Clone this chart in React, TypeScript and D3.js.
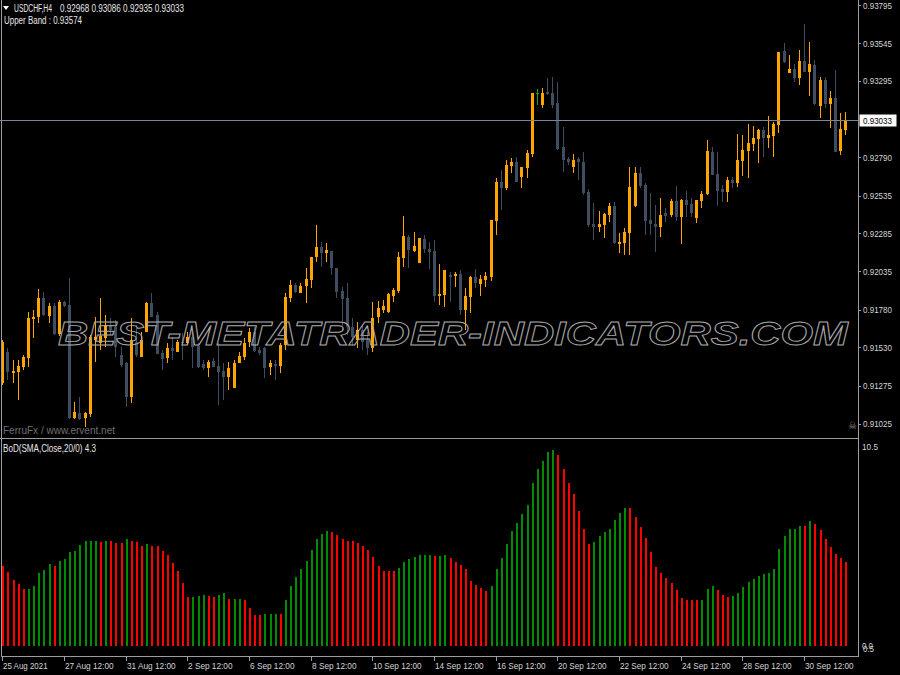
import { useEffect } from "react";
import * as d3 from "d3";

// USDCHF H4 candles, oldest first
const openPrices = [
	0.91295, 0.915, 0.91361, 0.91367, 0.914, 0.9146, 0.91718, 0.91731, 0.91857, 0.91738,
	0.91804, 0.91619, 0.91831, 0.91811, 0.91063, 0.91096, 0.91063, 0.91089, 0.91579, 0.91559,
	0.91592, 0.91679, 0.91665, 0.9148, 0.91427, 0.91202, 0.91566, 0.91467, 0.91632, 0.91824,
	0.91745, 0.91493, 0.9146, 0.91526, 0.915, 0.91566, 0.91559, 0.91599, 0.91539, 0.9142,
	0.91394, 0.9144, 0.91407, 0.91374, 0.91334, 0.91261, 0.91427, 0.91467, 0.91566, 0.91632,
	0.91513, 0.91526, 0.914, 0.9142, 0.91407, 0.91546, 0.91857, 0.91943, 0.9189, 0.91937,
	0.91976, 0.92129, 0.92195, 0.92155, 0.92168, 0.92056, 0.91904, 0.91857, 0.91665, 0.91579,
	0.91645, 0.91579, 0.91526, 0.91731, 0.91778, 0.91765, 0.9187, 0.91904, 0.92122, 0.92261,
	0.92168, 0.92089, 0.92248, 0.92182, 0.92168, 0.9187, 0.91877, 0.9201, 0.92003, 0.92016,
	0.91778, 0.91864, 0.91996, 0.9195, 0.91976, 0.91996, 0.92367, 0.92625, 0.92585, 0.92731,
	0.92758, 0.92658, 0.92718, 0.92811, 0.93214, 0.93135, 0.93221, 0.93214, 0.93148, 0.92857,
	0.92777, 0.92724, 0.92777, 0.92758, 0.92559, 0.92347, 0.92327, 0.92341, 0.92407, 0.92466,
	0.92215, 0.92221, 0.92288, 0.92466, 0.92685, 0.92605, 0.92374, 0.92347, 0.92327, 0.9242,
	0.92407, 0.92499, 0.92393, 0.92506, 0.9248, 0.92387, 0.92499, 0.92546, 0.92824, 0.92678,
	0.92579, 0.92559, 0.92638, 0.92619, 0.92764, 0.9283, 0.92877, 0.9291, 0.92969, 0.92916,
	0.9293, 0.93003, 0.93492, 0.93347, 0.93373, 0.93314, 0.93426, 0.93353, 0.934, 0.93128,
	0.933, 0.93141, 0.93181, 0.9283, 0.92968,
];

const highPrices = [
	0.91579, 0.91526, 0.91447, 0.91447, 0.9148, 0.91765, 0.91778, 0.91917, 0.91897, 0.91824,
	0.91824, 0.91844, 0.91837, 0.9199, 0.91169, 0.91202, 0.91103, 0.91612, 0.91731, 0.91857,
	0.91745, 0.91725, 0.91712, 0.91533, 0.91434, 0.91725, 0.91679, 0.91632, 0.91831, 0.9189,
	0.91765, 0.91513, 0.91559, 0.91599, 0.91579, 0.91625, 0.91632, 0.91632, 0.91559, 0.91447,
	0.91447, 0.9146, 0.91559, 0.91427, 0.91434, 0.91447, 0.915, 0.91592, 0.91659, 0.91665,
	0.91533, 0.91533, 0.91447, 0.91447, 0.91559, 0.9189, 0.91976, 0.91957, 0.91957, 0.92056,
	0.92129, 0.92341, 0.92228, 0.92221, 0.92168, 0.92056, 0.9193, 0.91957, 0.91725, 0.91698,
	0.91679, 0.91632, 0.91831, 0.91837, 0.91844, 0.9189, 0.91923, 0.92162, 0.924, 0.92274,
	0.92294, 0.92254, 0.92274, 0.92228, 0.92241, 0.92082, 0.92043, 0.92029, 0.92029, 0.92043,
	0.91923, 0.92003, 0.92049, 0.9201, 0.92029, 0.92374, 0.92652, 0.92705, 0.92771, 0.92784,
	0.92791, 0.92724, 0.92837, 0.93214, 0.93241, 0.93247, 0.93314, 0.9332, 0.93287, 0.92989,
	0.92791, 0.92811, 0.92791, 0.92824, 0.92579, 0.92486, 0.92433, 0.9242, 0.92486, 0.92493,
	0.92288, 0.92321, 0.92724, 0.92724, 0.92724, 0.92619, 0.92552, 0.92473, 0.92519, 0.92453,
	0.92513, 0.92599, 0.92513, 0.92566, 0.92519, 0.92506, 0.92566, 0.92903, 0.92857, 0.92824,
	0.92605, 0.92658, 0.92658, 0.92943, 0.92936, 0.93009, 0.92996, 0.92976, 0.92989, 0.93062,
	0.93022, 0.93486, 0.93545, 0.93466, 0.93406, 0.93499, 0.93671, 0.93552, 0.93433, 0.9332,
	0.9332, 0.93228, 0.93367, 0.93082, 0.93086,
];

const lowPrices = [
	0.91281, 0.91314, 0.91295, 0.91182, 0.91381, 0.914, 0.91592, 0.91692, 0.91738, 0.91692,
	0.91612, 0.91606, 0.91798, 0.91056, 0.91056, 0.9105, 0.91003, 0.91069, 0.91434, 0.91513,
	0.91533, 0.91612, 0.91467, 0.914, 0.91136, 0.91162, 0.91467, 0.91467, 0.91632, 0.91731,
	0.91487, 0.91381, 0.91427, 0.91447, 0.915, 0.91447, 0.91546, 0.91394, 0.91394, 0.91381,
	0.91334, 0.914, 0.91149, 0.91182, 0.91248, 0.91261, 0.91427, 0.91447, 0.91533, 0.915,
	0.9148, 0.91328, 0.91348, 0.91314, 0.91361, 0.91513, 0.91831, 0.9189, 0.9189, 0.91824,
	0.91923, 0.92096, 0.92062, 0.92096, 0.9201, 0.91857, 0.91645, 0.91612, 0.91546, 0.91526,
	0.91513, 0.9148, 0.915, 0.91692, 0.91758, 0.91758, 0.91831, 0.9189, 0.92062, 0.92056,
	0.92162, 0.92089, 0.92155, 0.92049, 0.91831, 0.91811, 0.91798, 0.91831, 0.9193, 0.91745,
	0.91645, 0.91758, 0.91923, 0.9187, 0.9193, 0.9197, 0.92274, 0.9244, 0.92572, 0.92685,
	0.92625, 0.92585, 0.92652, 0.92791, 0.93135, 0.93115, 0.93201, 0.93115, 0.92837, 0.92691,
	0.92738, 0.92685, 0.92638, 0.92539, 0.92327, 0.92241, 0.92294, 0.92254, 0.9236, 0.92215,
	0.92155, 0.92142, 0.92142, 0.9246, 0.92585, 0.92274, 0.92274, 0.92162, 0.92261, 0.9236,
	0.92393, 0.92367, 0.92215, 0.92393, 0.92393, 0.92354, 0.92453, 0.92539, 0.92672, 0.92466,
	0.92493, 0.92493, 0.92585, 0.92592, 0.92665, 0.92652, 0.9283, 0.92751, 0.92791, 0.9285,
	0.92791, 0.9295, 0.93413, 0.93347, 0.93287, 0.93267, 0.93353, 0.93194, 0.93135, 0.93049,
	0.93115, 0.92983, 0.92824, 0.92804, 0.92935,
];

const closePrices = [
	0.91566, 0.91367, 0.91374, 0.91407, 0.91467, 0.91725, 0.91731, 0.91857, 0.91745, 0.91804,
	0.91619, 0.91831, 0.91804, 0.91063, 0.91103, 0.91056, 0.91096, 0.91599, 0.91599, 0.91606,
	0.91679, 0.91645, 0.91533, 0.91414, 0.91202, 0.91579, 0.9148, 0.91579, 0.91824, 0.91731,
	0.91487, 0.91453, 0.91526, 0.91506, 0.91566, 0.91559, 0.91599, 0.91533, 0.914, 0.91394,
	0.91434, 0.914, 0.91367, 0.91334, 0.91394, 0.91427, 0.91473, 0.91559, 0.91632, 0.91506,
	0.91493, 0.91394, 0.91427, 0.91407, 0.91546, 0.91864, 0.91943, 0.91897, 0.91937, 0.91983,
	0.92129, 0.92195, 0.92155, 0.92175, 0.92056, 0.91897, 0.91851, 0.91665, 0.91599, 0.91645,
	0.91566, 0.91526, 0.91725, 0.9179, 0.91804, 0.91884, 0.9191, 0.92129, 0.92268, 0.92175,
	0.92201, 0.92254, 0.92182, 0.92162, 0.9187, 0.91884, 0.92043, 0.91996, 0.92016, 0.91778,
	0.9187, 0.91996, 0.91957, 0.91983, 0.92003, 0.92374, 0.92625, 0.92585, 0.92738, 0.92758,
	0.92625, 0.92724, 0.92817, 0.93214, 0.93214, 0.93214, 0.93208, 0.93135, 0.92844, 0.92771,
	0.92758, 0.92771, 0.92758, 0.92552, 0.92341, 0.92327, 0.92347, 0.92413, 0.92466, 0.92221,
	0.92228, 0.92294, 0.92592, 0.92685, 0.92599, 0.92367, 0.92347, 0.92327, 0.92407, 0.924,
	0.92499, 0.92393, 0.92506, 0.92473, 0.9242, 0.92506, 0.92546, 0.9283, 0.92672, 0.92566,
	0.92559, 0.92638, 0.92619, 0.92771, 0.92837, 0.92883, 0.92916, 0.92969, 0.92916, 0.92936,
	0.93009, 0.93486, 0.9342, 0.93373, 0.93314, 0.93426, 0.93353, 0.93406, 0.93141, 0.933,
	0.93141, 0.93181, 0.92824, 0.92976, 0.93033,
];

// BoD histogram, one value per candle; G = green bar, R = red bar
const bodValues = [
	4.11, 3.82, 3.39, 3.19, 2.92, 2.92, 3.1, 3.76, 3.9, 4.21,
	4.12, 4.36, 4.48, 4.82, 4.87, 5.18, 5.37, 5.37, 5.37, 5.34,
	5.37, 5.37, 5.28, 5.28, 5.49, 5.4, 5.34, 5.15, 5.22, 5.15,
	5.15, 4.87, 4.67, 4.26, 3.85, 3.24, 2.52, 2.51, 2.57, 2.62,
	2.57, 2.54, 2.62, 2.71, 2.42, 2.42, 2.42, 2.37, 1.96, 1.6,
	1.6, 1.64, 1.64, 1.64, 1.64, 2.38, 3.1, 3.54, 3.97, 4.35,
	4.93, 5.49, 5.76, 5.91, 5.85, 5.69, 5.49, 5.4, 5.4, 5.28,
	5.13, 4.93, 4.57, 4.12, 3.85, 3.85, 3.85, 4.01, 4.33, 4.48,
	4.57, 4.65, 4.65, 4.65, 4.62, 4.62, 4.65, 4.49, 4.33, 4.16,
	3.95, 3.34, 3.14, 3.0, 2.83, 3.1, 3.94, 4.53, 5.23, 5.91,
	6.31, 6.77, 7.23, 8.37, 9.05, 9.48, 9.92, 10.04, 9.8, 9.07,
	8.37, 7.79, 6.92, 6.0, 5.23, 5.32, 5.64, 5.83, 6.0, 6.46,
	6.83, 7.06, 7.06, 6.63, 6.1, 5.56, 4.84, 4.06, 3.73, 3.51,
	3.22, 2.88, 2.46, 2.35, 2.35, 2.35, 2.35, 2.92, 3.07, 2.86,
	2.62, 2.52, 2.56, 2.71, 3.05, 3.27, 3.46, 3.61, 3.71, 3.75,
	3.95, 4.98, 5.64, 5.98, 6.02, 6.15, 6.15, 6.41, 6.24, 5.95,
	5.49, 5.08, 4.74, 4.5, 4.3,
];

const bodColors =
	"RRRRRGGGGG" + "RGGGGGGGGR" + "GRRRGRRRGR" + "RRRRRRRGGG" + "RRGGRGGRRR" +
	"RGGGRGGGGG" + "GGGGRRRRRR" + "RRRRRRRGGG" + "GGGGRGGRRR" + "RRRRRGGGGG" +
	"GGGGGGGGRR" + "RRRRRGGGGG" + "GGRRRRRRRR" + "RRRRRRGGGR" + "RRGGGGGGGG" +
	"GGGGGGRGRR" + "RRRRR";

const priceTicks = [
	"0.93795", "0.93545", "0.93295", "0.92790", "0.92535", "0.92285",
	"0.92035", "0.91780", "0.91530", "0.91275", "0.91025",
];

const dateLabels = [
	"25 Aug 2021", "27 Aug 12:00", "31 Aug 12:00", "2 Sep 12:00", "6 Sep 12:00",
	"8 Sep 12:00", "10 Sep 12:00", "14 Sep 12:00", "16 Sep 12:00", "20 Sep 12:00",
	"22 Sep 12:00", "24 Sep 12:00", "28 Sep 12:00", "30 Sep 12:00",
];
const dateLabelBars = [0, 12, 24, 36, 48, 60, 72, 84, 96, 108, 120, 132, 144, 156];

const bidPrice = 0.93033;
const bodMax = "10.5";

const FONT = "'Liberation Sans', Arial, sans-serif";
const FRAME = "#9c9c9c";
const AXIS_TEXT = "#d4d4d4";
const BULL = "#ffa500";
const BEAR = "#3f4d60";
const DOJI = "#13a313";

export default function App() {
	useEffect(() => {
		document.body.style.margin = "0";
		document.body.style.background = "#000";
	}, []);

	const width = 900;
	const height = 675;
	const plotRight = 858.5;

	const x = d3.scaleLinear().domain([0, openPrices.length - 1]).range([2.3, 845.3]);
	const yPrice = d3.scaleLinear().domain([0.90937, 0.9383]).range([437, 0]);
	const yBod = d3.scaleLinear().domain([-0.5, 10.5]).range([656, 441]);

	const candles = openPrices.map((open, i) => ({
		i,
		open,
		high: highPrices[i],
		low: lowPrices[i],
		close: closePrices[i],
	}));

	const bidY = Math.round(yPrice(bidPrice)) + 0.5;

	return (
		<svg width={width} height={height} style={{ display: "block", background: "#000" }} fontFamily={FONT}>
			<rect width={width} height={height} fill="#000" />

			{/* price candles */}
			<g shapeRendering="crispEdges">
				{candles.map((c) => {
					const cx = Math.round(x(c.i));
					const color = c.close > c.open ? BULL : c.close < c.open ? BEAR : DOJI;
					const top = yPrice(Math.max(c.open, c.close));
					const bottom = yPrice(Math.min(c.open, c.close));
					return (
						<g key={c.i}>
							<rect x={cx} y={yPrice(c.high)} width={1} height={yPrice(c.low) - yPrice(c.high)} fill={color} />
							<rect x={cx - 1} y={top} width={3} height={Math.max(1, bottom - top)} fill={color} />
						</g>
					);
				})}
			</g>

			{/* bid line */}
			<line x1={0} x2={plotRight} y1={bidY} y2={bidY} stroke="#778899" />

			{/* watermark */}
			<text
				x={58}
				y={345}
				fontSize={33}
				fontStyle="italic"
				fontWeight="bold"
				fill="none"
				stroke="#a8a8a8"
				strokeWidth={0.9}
				textLength={790}
				lengthAdjust="spacingAndGlyphs"
			>
				BEST-METATRADER-INDICATORS.COM
			</text>

			{/* BoD histogram */}
			<g shapeRendering="crispEdges">
				{bodValues.map((v, i) => (
					<rect
						key={i}
						x={Math.round(x(i)) - 0.5}
						y={yBod(v)}
						width={2}
						height={yBod(0) - yBod(v)}
						fill={bodColors[i] === "G" ? "#008c00" : "#ff0000"}
					/>
				))}
			</g>

			{/* frames */}
			<g stroke={FRAME} fill="none" shapeRendering="crispEdges">
				<line x1={1.5} x2={1.5} y1={0} y2={657} />
				<line x1={plotRight} x2={plotRight} y1={0} y2={657} />
				<line x1={0} x2={plotRight} y1={438.5} y2={438.5} />
				<line x1={1.5} x2={plotRight} y1={656.5} y2={656.5} />
			</g>

			{/* price axis */}
			{priceTicks.map((t) => {
				const py = yPrice(+t);
				return (
					<g key={t}>
						<line x1={plotRight} x2={861} y1={Math.round(py) + 0.5} y2={Math.round(py) + 0.5} stroke={FRAME} />
						<text x={863} y={py + 3.5} fontSize={9.5} fill={AXIS_TEXT} textLength={29} lengthAdjust="spacingAndGlyphs">
							{t}
						</text>
					</g>
				);
			})}
			<rect x={859.5} y={bidY - 6} width={37} height={12} fill="#fff" />
			<text x={863} y={bidY + 3.5} fontSize={9.5} fill="#000" textLength={29} lengthAdjust="spacingAndGlyphs">
				{bidPrice.toFixed(5)}
			</text>

			{/* indicator axis: max, and the overlapping 0.0 / 0.5 pair at the bottom */}
			<text x={862} y={yBod(10.5) + 9} fontSize={9.5} fill={AXIS_TEXT} textLength={16} lengthAdjust="spacingAndGlyphs">
				{bodMax}
			</text>
			<text x={862} y={yBod(0) + 3} fontSize={9} fill={AXIS_TEXT} textLength={11} lengthAdjust="spacingAndGlyphs">
				0.0
			</text>
			<text x={863} y={yBod(0) + 6} fontSize={9} fill={AXIS_TEXT} textLength={11} lengthAdjust="spacingAndGlyphs">
				0.5
			</text>

			{/* time axis */}
			{dateLabels.map((label, k) => {
				const tx = Math.round(x(dateLabelBars[k])) + 0.5;
				return (
					<g key={label}>
						<line x1={tx} x2={tx} y1={657} y2={661} stroke={FRAME} />
						<text
							x={tx + 0.5}
							y={668.5}
							fontSize={9.5}
							fill={AXIS_TEXT}
							textLength={label.length * 4.05}
							lengthAdjust="spacingAndGlyphs"
						>
							{label}
						</text>
					</g>
				);
			})}

			{/* header texts */}
			<path d="M3,6 L9,6 L6,10 Z" fill="#fff" />
			<text x={14} y={11.5} fontSize={10} fill="#e8e8e8" textLength={38} lengthAdjust="spacingAndGlyphs">
				USDCHF,H4
			</text>
			<text x={60} y={11.5} fontSize={10} fill="#e8e8e8" textLength={124} lengthAdjust="spacingAndGlyphs">
				{`${openPrices[164].toFixed(5)} ${highPrices[164].toFixed(5)} ${lowPrices[164].toFixed(5)} ${closePrices[164].toFixed(5)}`}
			</text>
			<text x={4} y={23.5} fontSize={10} fill="#e8e8e8" textLength={78} lengthAdjust="spacingAndGlyphs">
				Upper Band : 0.93574
			</text>
			<text x={3} y={433.5} fontSize={10} fill="#6f6f6f" textLength={112} lengthAdjust="spacingAndGlyphs">
				FerruFx / www.ervent.net
			</text>
			<text x={3} y={451.5} fontSize={10} fill="#e8e8e8" textLength={93} lengthAdjust="spacingAndGlyphs">
				BoD(SMA,Close,20/0) 4.3
			</text>
			<text x={848} y={429} fontSize={10} fill="#8a8a8a" fontFamily="'DejaVu Sans', sans-serif">
				☠
			</text>
		</svg>
	);
}
